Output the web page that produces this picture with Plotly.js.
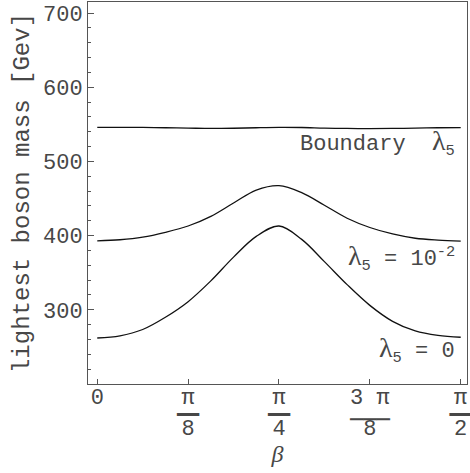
<!DOCTYPE html>
<html>
<head>
<meta charset="utf-8">
<script src="https://cdn.plot.ly/plotly-3.0.1.min.js"></script>
<style>body{margin:0;background:#fff}</style>
</head>
<body>
<div id="chart" style="width:470px;height:473px"></div>
<script>
// beta grid, k*pi/32 for k = 0..16
const beta = [0, 0.0982, 0.1963, 0.2945, 0.3927, 0.4909, 0.5890, 0.6872, 0.7854,
              0.8836, 0.9817, 1.0799, 1.1781, 1.2763, 1.3744, 1.4726, 1.5708];

// lightest boson mass [GeV]
const massBoundary = [546, 546, 546, 545.5, 545, 544.5, 544.8, 545.5, 546,
                      545.8, 545, 544.5, 544.3, 544.5, 545, 545.5, 545.7];
const massLam1e2 = [393, 394.5, 398, 404.5, 413, 426, 444, 461.5, 467.5,
                    458, 441, 423.5, 411, 402.3, 396.5, 394, 392.7];
const massLam0 = [262, 265, 273.5, 290, 311, 339, 371, 399, 413,
                  395, 365, 334, 306, 284.5, 271.5, 265.5, 263];

// x ticks: multiples of pi/8, written as fractions
const xTickVals = [0, 0.3927, 0.7854, 1.1781, 1.5708];
const xTickNum = ['0', 'π', 'π', '3 π', 'π'];
const xTickBar = ['', '─', '─', "<span style=\"font-size:22px\">───</span>", '─'];
const xTickDen = ['', '8', '4', '8', '2'];

const yTickVals = [300, 400, 500, 600, 700];

const mono = "'Liberation Mono', 'DejaVu Sans Mono', monospace";
const serif = "'Liberation Serif', 'DejaVu Serif', serif";
const txtColor = '#474747';
const xRange = [-0.04, 1.598];

function lam(sub) {
  return "<span style=\"font-family:Liberation Serif;font-size:28px\">λ</span><sub>" + sub + "</sub>";
}

let curveStyle = { color: '#111', width: 1.3, shape: 'spline' };

let traces = [
  { x: beta, y: massBoundary, mode: 'lines', line: curveStyle, hoverinfo: 'skip' },
  { x: beta, y: massLam1e2, mode: 'lines', line: curveStyle, hoverinfo: 'skip' },
  { x: beta, y: massLam0, mode: 'lines', line: curveStyle, hoverinfo: 'skip' },
  // empty traces so the fraction-bar and denominator axes get drawn
  { x: [], y: [], mode: 'none', xaxis: 'x2', hoverinfo: 'skip' },
  { x: [], y: [], mode: 'none', xaxis: 'x3', hoverinfo: 'skip' }
];

function labelAxis(texts, size, family, standoff) {
  return {
    overlaying: 'x',
    anchor: 'y',
    side: 'bottom',
    range: xRange,
    showgrid: false,
    zeroline: false,
    showline: false,
    ticks: '',
    tickvals: xTickVals,
    ticktext: texts,
    ticklabeloverflow: 'allow',
    ticklabelstandoff: standoff,
    tickfont: { family: family, size: size, color: txtColor }
  };
}

let layout = {
  width: 470,
  height: 473,
  showlegend: false,
  paper_bgcolor: '#fff',
  plot_bgcolor: '#fff',
  margin: { l: 88, r: 3, t: 2, b: 89 },
  font: { family: mono, size: 22, color: txtColor },
  xaxis: {
    range: xRange,
    showgrid: false,
    zeroline: false,
    showline: true,
    mirror: true,
    linecolor: '#555',
    linewidth: 1,
    ticks: 'inside',
    ticklen: 5,
    tickcolor: '#555',
    tickvals: xTickVals,
    ticktext: xTickNum,
    ticklabeloverflow: 'allow',
    ticklabelstandoff: -7,
    tickfont: { family: mono, size: 22, color: txtColor },
    title: { text: '<i>β</i>', font: { family: serif, size: 24, color: txtColor }, standoff: 34 }
  },
  xaxis2: labelAxis(xTickBar, 36, "'DejaVu Sans Mono', monospace", 6),
  xaxis3: labelAxis(xTickDen, 22, mono, 28),
  yaxis: {
    range: [200, 715],
    showgrid: false,
    zeroline: false,
    showline: true,
    mirror: true,
    linecolor: '#555',
    linewidth: 1,
    ticks: 'inside',
    ticklen: 6,
    tickcolor: '#555',
    tickvals: yTickVals,
    minor: { dtick: 20, tick0: 200, ticks: 'inside', ticklen: 3, tickcolor: '#555' },
    tickfont: { family: mono, size: 22, color: txtColor },
    title: { text: 'lightest boson mass [Gev]', font: { family: mono, size: 24, color: txtColor }, standoff: 6 }
  },
  annotations: [
    { x: 1.556, y: 526, xref: 'x', yref: 'y', xanchor: 'right', yanchor: 'middle',
      text: 'Boundary\u00a0 ' + lam('5'), showarrow: false },
    { x: 1.556, y: 371, xref: 'x', yref: 'y', xanchor: 'right', yanchor: 'middle',
      text: lam('5') + ' = 10<sup>-2</sup>', showarrow: false },
    { x: 1.556, y: 246, xref: 'x', yref: 'y', xanchor: 'right', yanchor: 'middle',
      text: lam('5') + ' = 0', showarrow: false }
  ]
};

Plotly.newPlot('chart', traces, layout, { staticPlot: true });
</script>
</body>
</html>
